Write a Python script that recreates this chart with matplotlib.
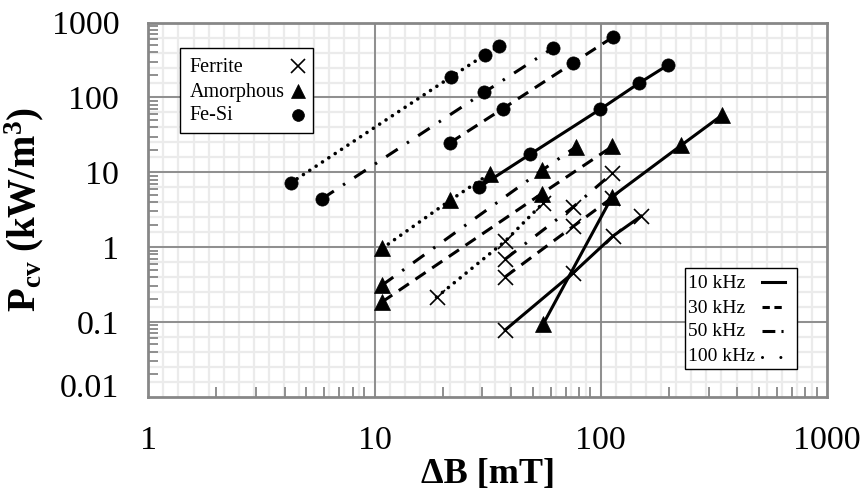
import matplotlib
matplotlib.use('Agg')
import matplotlib.pyplot as plt
import numpy as np
from matplotlib.patches import Rectangle
from matplotlib.ticker import FixedLocator, LogLocator, NullFormatter, FixedFormatter
import matplotlib.transforms as mtransforms

plt.rcParams['font.family'] = ['Liberation Serif', 'DejaVu Serif']
plt.rcParams['mathtext.fontset'] = 'custom'
plt.rcParams['mathtext.rm'] = 'Liberation Serif'
plt.rcParams['mathtext.bf'] = 'Liberation Serif:bold'
plt.rcParams['mathtext.it'] = 'Liberation Serif:italic'

# ---------------- data ----------------
ferrite_10k_B = [37.8, 75.7, 113, 150.7]
ferrite_10k_P = [0.078, 0.455, 1.40, 2.59]
ferrite_30k_B = [37.8, 75.7, 112.5]
ferrite_30k_P = [0.40, 1.9, 4.6]
ferrite_50k_B = [37.8, 75.7, 112.5]
ferrite_50k_P = [0.69, 3.46, 9.7]
ferrite_100k_B = [18.8, 37.8, 55.8]
ferrite_100k_P = [0.214, 1.2, 3.92]

amorph_10k_B = [55.8, 112.2, 226.5, 342.7]
amorph_10k_P = [0.095, 4.71, 22.9, 57.7]
amorph_30k_B = [10.8, 54.9, 112.5]
amorph_30k_P = [0.185, 5.2, 22.2]
amorph_50k_B = [10.8, 54.9, 77.5]
amorph_50k_P = [0.31, 10.6, 21.8]
amorph_100k_B = [10.8, 21.6, 32.4]
amorph_100k_P = [0.96, 4.23, 9.6]

fesi_10k_B = [29.1, 48.7, 99.3, 147.7, 199]
fesi_10k_P = [6.37, 17.4, 69.4, 155.6, 274]
fesi_30k_B = [21.6, 36.9, 75.2, 113]
fesi_30k_P = [24.9, 70.9, 288, 640]
fesi_50k_B = [5.88, 30.5, 61.7]
fesi_50k_P = [4.45, 117, 462]
fesi_100k_B = [4.26, 21.7, 30.8, 35.5]
fesi_100k_P = [7.2, 187, 372, 486]

materials = ['Ferrite', 'Amorphous', 'Fe-Si']
frequencies = ['10 kHz', '30 kHz', '50 kHz', '100 kHz']
x_ticks = [1, 10, 100, 1000]
x_tick_labels = ['1', '10', '100', '1000']
y_ticks = [0.01, 0.1, 1, 10, 100, 1000]
y_tick_labels = ['0.01', '0.1', '1', '10', '100', '1000']

# ---------------- styles ----------------
LW = 2.2
styles = {
    '10 kHz': dict(linestyle='-', lw=LW),
    '30 kHz': dict(linestyle=(0, (4.0, 2.6)), lw=LW),
    '50 kHz': dict(linestyle=(0, (4.5, 3.6, 0.8, 3.6)), lw=LW),
    '100 kHz': dict(linestyle=(0, (0.01, 2.1)), dash_capstyle='round', lw=2.6),
}
legend_styles = {
    '10 kHz': dict(linestyle='-'),
    '30 kHz': dict(linestyle=(0, (2.4, 1.5))),
    '50 kHz': dict(linestyle=(0, (4.2, 2.0, 0.7, 5))),
    '100 kHz': dict(linestyle=(0, (0.01, 6.0)), dash_capstyle='round'),
}
markers = {
    'Ferrite': dict(marker='x', markersize=10.8, markeredgewidth=1.2,
                    markerfacecolor='none'),
    'Amorphous': dict(marker='^', markersize=11.5, markeredgewidth=0.5,
                      markerfacecolor='black'),
    'Fe-Si': dict(marker='o', markersize=9.5, markeredgewidth=0.5,
                  markerfacecolor='black'),
}
legend_markers = {
    'Ferrite': dict(marker='x', markersize=9.5, markeredgewidth=1.2,
                    markerfacecolor='none'),
    'Amorphous': dict(marker='^', markersize=9.5, markeredgewidth=0.5,
                      markerfacecolor='black'),
    'Fe-Si': dict(marker='o', markersize=8.5, markeredgewidth=0.5,
                  markerfacecolor='black'),
}

series = [
    ('Ferrite', '10 kHz', ferrite_10k_B, ferrite_10k_P),
    ('Ferrite', '30 kHz', ferrite_30k_B, ferrite_30k_P),
    ('Ferrite', '50 kHz', ferrite_50k_B, ferrite_50k_P),
    ('Ferrite', '100 kHz', ferrite_100k_B, ferrite_100k_P),
    ('Amorphous', '10 kHz', amorph_10k_B, amorph_10k_P),
    ('Amorphous', '30 kHz', amorph_30k_B, amorph_30k_P),
    ('Amorphous', '50 kHz', amorph_50k_B, amorph_50k_P),
    ('Amorphous', '100 kHz', amorph_100k_B, amorph_100k_P),
    ('Fe-Si', '10 kHz', fesi_10k_B, fesi_10k_P),
    ('Fe-Si', '30 kHz', fesi_30k_B, fesi_30k_P),
    ('Fe-Si', '50 kHz', fesi_50k_B, fesi_50k_P),
    ('Fe-Si', '100 kHz', fesi_100k_B, fesi_100k_P),
]

W, H = 866, 503
fig = plt.figure(figsize=(W / 100, H / 100), dpi=100)
L, R, T, B = 148.3, 827.0, 22.7, 396.7
ax = fig.add_axes([L / W, 1 - B / H, (R - L) / W, (B - T) / H])
ax.set_xscale('log')
ax.set_yscale('log')
ax.set_xlim(1, 1000)
ax.set_ylim(0.01, 1000)


def af(px, py):
    """pixel position -> axes fraction"""
    return (px - L) / (R - L), (B - py) / (B - T)


# uniform light background grid
grid_light = '#ebebeb'
grid_major = '#878787'
for k in range(1, 45):
    ax.axvline(10 ** (k / 15), color=grid_light, lw=1.6, zorder=0.5)
for k in range(1, 25):
    ax.axhline(10 ** (k / 5 - 2), color=grid_light, lw=1.6, zorder=0.5)
for v in x_ticks[1:-1]:
    ax.axvline(v, color=grid_major, lw=1.3, zorder=0.8)
for v in y_ticks[1:-1]:
    ax.axhline(v, color=grid_major, lw=1.3, zorder=0.8)

for mat, fr, xs, ys in series:
    ax.plot(xs, ys, color='black', markeredgecolor='black',
            zorder=3, **styles[fr], **markers[mat])

# ticks
ax.xaxis.set_major_locator(FixedLocator(x_ticks))
ax.xaxis.set_major_formatter(FixedFormatter(x_tick_labels))
ax.yaxis.set_major_locator(FixedLocator(y_ticks))
ax.yaxis.set_major_formatter(FixedFormatter(y_tick_labels))
ax.xaxis.set_minor_locator(LogLocator(base=10, subs=np.arange(2, 10)))
ax.yaxis.set_minor_locator(LogLocator(base=10, subs=np.arange(2, 10)))
ax.xaxis.set_minor_formatter(NullFormatter())
ax.yaxis.set_minor_formatter(NullFormatter())
ax.tick_params(which='major', length=0, labelsize=24.5, pad=21)
ax.tick_params(which='minor', direction='in', length=7, width=1.3,
               color=grid_major)
ax.tick_params(axis='y', which='minor', right=False)
ax.tick_params(axis='x', which='minor', top=False)
for s in ax.spines.values():
    s.set_color(grid_major)
    s.set_linewidth(2)

ax.set_xlabel('ΔB [mT]', fontsize=26, fontweight='bold', labelpad=1)
ax.set_ylabel(r'$\mathbf{P_{cv}\ (kW/m^3)}$', fontsize=28, labelpad=4)

# ---------------- legend 1 (materials) ----------------
x0, y0 = af(180, 133.3)
x1, y1 = af(313.3, 47.7)
ax.add_patch(Rectangle((x0, y0), x1 - x0, y1 - y0, transform=ax.transAxes,
                       facecolor='white', edgecolor='black', lw=1.0,
                       zorder=5, clip_on=False))
mat_baselines = [72.3, 96.7, 120.0]
mat_marker_y = [65.7, 90.7, 115.0]
for mat, yb, ym in zip(materials, mat_baselines, mat_marker_y):
    tx, ty = af(189.3, yb)
    ax.text(tx, ty, mat, transform=ax.transAxes, ha='left', va='baseline',
            fontsize=14.5, zorder=6)
    mx, my = af(297.5, ym)
    ax.plot([mx], [my], transform=ax.transAxes, color='black',
            linestyle='none', markeredgecolor='black', clip_on=False,
            zorder=6, **legend_markers[mat])

# ---------------- legend 2 (frequencies) ----------------
x0, y0 = af(685, 369)
x1, y1 = af(796.7, 268.3)
ax.add_patch(Rectangle((x0, y0), x1 - x0, y1 - y0, transform=ax.transAxes,
                       facecolor='white', edgecolor='black', lw=1.0,
                       zorder=5, clip_on=False))
fr_baselines = [287.7, 312.7, 336.0, 360.7]
fr_line_y = [282.3, 307.3, 331.0, 356.7]
for fr, yb, yl in zip(frequencies, fr_baselines, fr_line_y):
    tx, ty = af(688.3, yb)
    ax.text(tx, ty, fr, transform=ax.transAxes, ha='left', va='baseline',
            fontsize=14, zorder=6)
    ax_, ay_ = af(762, yl)
    bx_, by_ = af(785, yl)
    ax.plot([ax_, bx_], [ay_, by_], transform=ax.transAxes, color='black',
            lw=LW, clip_on=False, zorder=6, **legend_styles[fr])

fig.canvas.draw()
for t in ax.yaxis.get_major_ticks():
    if t.label1.get_text() == '0.01':
        t.label1.set_transform(t.label1.get_transform() +
                               mtransforms.ScaledTranslation(0, 0.11, fig.dpi_scale_trans))

fig.savefig('out.png', dpi=100)
